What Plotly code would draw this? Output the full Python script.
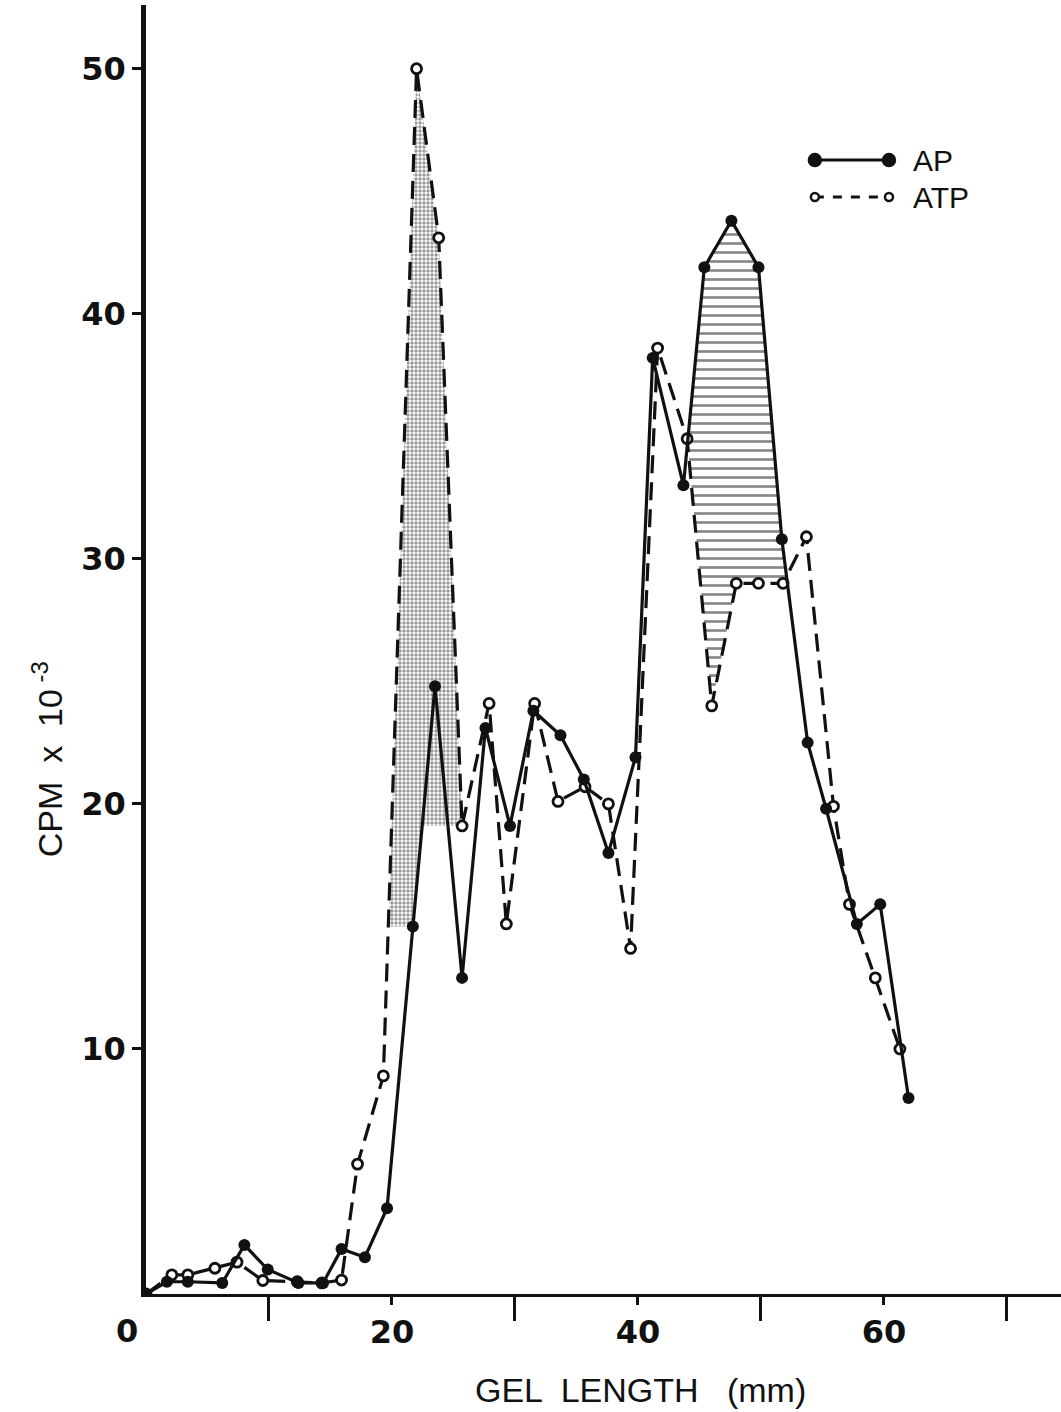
import numpy as np
import plotly.graph_objects as go

# Gel position (mm) and radioactivity (CPM x 10^-3) for each slice
ap_x = [0, 1.7, 3.4, 6.2, 8.0, 9.9, 12.4, 14.4, 15.9, 17.8, 19.6,
        21.7, 23.5, 25.7, 27.6, 29.6, 31.5, 33.7, 35.6, 37.6, 39.8,
        41.2, 43.7, 45.4, 47.6, 49.8, 51.7, 53.8, 55.3, 57.8, 59.7, 62.0]
ap_y = [0, 0.5, 0.5, 0.45, 2.0, 1.0, 0.45, 0.45, 1.84, 1.5, 3.5,
        15.0, 24.8, 12.9, 23.1, 19.1, 23.8, 22.8, 21.0, 18.0, 21.9,
        38.2, 33.0, 41.9, 43.8, 41.9, 30.8, 22.5, 19.8, 15.1, 15.9, 8.0]

atp_x = [0, 2.1, 3.4, 5.6, 7.4, 9.5, 12.3, 14.3, 15.9, 17.2, 19.3,
         22.0, 23.8, 25.7, 27.9, 29.3, 31.6, 33.5, 35.7, 37.6, 39.4,
         41.6, 44.0, 46.0, 48.0, 49.8, 51.8, 53.7, 55.9, 57.2, 59.3, 61.3]
atp_y = [0, 0.78, 0.78, 1.05, 1.3, 0.55, 0.5, 0.45, 0.57, 5.3, 8.9,
         50.0, 43.1, 19.1, 24.1, 15.1, 24.1, 20.1, 20.7, 20.0, 14.1,
         38.6, 34.9, 24.0, 29.0, 29.0, 29.0, 30.9, 19.9, 15.9, 12.9, 10.0]

x_ticks = [20, 40, 60]
x_minor_ticks = [10, 30, 50, 70]
y_ticks = [10, 20, 30, 40, 50]

INK = "#111111"

# --- stippled area under the ATP peak ---------------------------------
ipk = int(np.argmax(atp_y))
j = max(i for i, v in enumerate(ap_x) if v < atp_x[ipk])
lo = ap_y[j]
hi = atp_y[ipk + 2]
xl = np.interp(lo, [atp_y[ipk - 1], atp_y[ipk]], [atp_x[ipk - 1], atp_x[ipk]])
xh = np.interp(hi, [ap_y[j], ap_y[j + 1]], [ap_x[j], ap_x[j + 1]])
stip_x = [xl] + atp_x[ipk:ipk + 3] + [xh, ap_x[j], xl]
stip_y = [lo] + atp_y[ipk:ipk + 3] + [hi, lo, lo]


# --- hatched band where AP lies above ATP ------------------------------
def band(x_lo, x_hi):
    xs = sorted(set(v for v in ap_x + atp_x if x_lo <= v <= x_hi))
    ya = np.interp(xs, ap_x, ap_y)
    yt = np.interp(xs, atp_x, atp_y)
    d = ya - yt
    upper, lower = [], []
    for i in range(len(xs)):
        if i > 0 and d[i - 1] * d[i] < 0:
            t = d[i - 1] / (d[i - 1] - d[i])
            xc = xs[i - 1] + t * (xs[i] - xs[i - 1])
            yc = ya[i - 1] + t * (ya[i] - ya[i - 1])
            upper.append((xc, yc))
            lower.append((xc, yc))
        if d[i] > 0:
            upper.append((xs[i], ya[i]))
            lower.append((xs[i], yt[i]))
    pts = upper + lower[::-1]
    return [p[0] for p in pts], [p[1] for p in pts]


hatch_x, hatch_y = band(43.0, 54.0)

fig = go.Figure()

fig.add_trace(go.Scatter(
    x=stip_x, y=stip_y, mode="lines", fill="toself",
    line=dict(width=0), fillcolor="rgba(0,0,0,0)",
    fillpattern=dict(shape=".", size=4, solidity=0.55,
                     fgcolor="#333333", bgcolor="white", fillmode="overlay"),
    hoverinfo="skip", showlegend=False))

fig.add_trace(go.Scatter(
    x=hatch_x, y=hatch_y, mode="lines", fill="toself",
    line=dict(width=0), fillcolor="rgba(0,0,0,0)",
    fillpattern=dict(shape="-", size=9, solidity=0.3,
                     fgcolor=INK, bgcolor="white", fillmode="overlay"),
    hoverinfo="skip", showlegend=False))

fig.add_trace(go.Scatter(
    x=atp_x, y=atp_y, mode="lines+markers", name="ATP",
    line=dict(color=INK, width=3.2, dash="18px,9px"),
    marker=dict(symbol="circle", size=10, color="white",
                line=dict(color=INK, width=2.8)),
    showlegend=False))

fig.add_trace(go.Scatter(
    x=ap_x, y=ap_y, mode="lines+markers", name="AP",
    line=dict(color=INK, width=3.2),
    marker=dict(symbol="circle", size=12, color=INK),
    showlegend=False))

# --- legend key drawn with shapes and text ---------------------------
shapes = []
leg = [("AP", 0.8797, "solid", INK, 12), ("ATP", 0.851, "dash", "white", 8)]
lx0, lx1 = 0.731, 0.812
for name, ly, dash, fill, sz in leg:
    shapes.append(dict(type="line", xref="paper", yref="paper",
                       x0=lx0, x1=lx1, y0=ly, y1=ly,
                       line=dict(color=INK, width=3, dash=dash)))
    for ax in (lx0, lx1):
        shapes.append(dict(type="circle", xref="paper", yref="paper",
                           xsizemode="pixel", ysizemode="pixel",
                           xanchor=ax, yanchor=ly,
                           x0=-sz / 2, x1=sz / 2, y0=-sz / 2, y1=sz / 2,
                           fillcolor=fill, line=dict(color=INK, width=2.5)))

annotations = [
    dict(text=name, xref="paper", yref="paper", x=0.836, y=ly,
         xanchor="left", yanchor="middle", showarrow=False,
         font=dict(family="Liberation Sans", size=30, color=INK))
    for name, ly, *_ in leg
]
annotations += [
    dict(text="0", xref="x", yref="y", x=0, y=0, xshift=-19, yshift=-37,
         xanchor="center", yanchor="middle", showarrow=False,
         font=dict(family="DejaVu Sans", size=32, color=INK, weight="bold")),
    dict(text="GEL  LENGTH   (mm)", xref="paper", yref="paper",
         x=0.54, y=-0.0745, xanchor="center", yanchor="middle",
         showarrow=False,
         font=dict(family="Liberation Sans", size=34, color=INK)),
    dict(text="CPM  x  10<sup> -3</sup>", xref="paper", yref="paper",
         x=-0.108, y=0.415, xanchor="center", yanchor="middle",
         textangle=-90, showarrow=False,
         font=dict(family="Liberation Sans", size=34, color=INK)),
]

fig.update_layout(
    width=1061, height=1412,
    margin=dict(l=146, r=0, t=5, b=118),
    paper_bgcolor="white", plot_bgcolor="white",
    shapes=shapes, annotations=annotations,
    font=dict(family="DejaVu Sans", color=INK),
    xaxis=dict(range=[0, 74.4], showgrid=False, zeroline=False,
               showline=True, linecolor=INK, linewidth=3,
               tickmode="array", tickvals=x_ticks,
               ticks="outside", ticklen=8, tickwidth=2.5, tickcolor=INK,
               tickfont=dict(family="DejaVu Sans", size=32, color=INK,
                             weight="bold"),
               minor=dict(tickmode="array", tickvals=x_minor_ticks,
                          ticks="outside", ticklen=24, tickwidth=2.5,
                          tickcolor=INK, showgrid=False)),
    yaxis=dict(range=[0, 52.6], showgrid=False, zeroline=False,
               showline=True, linecolor=INK, linewidth=4.5,
               tickmode="array", tickvals=y_ticks,
               ticks="outside", ticklen=9, tickwidth=2.5, tickcolor=INK,
               tickfont=dict(family="DejaVu Sans", size=32, color=INK,
                             weight="bold")),
)

fig.write_html("out.html")
